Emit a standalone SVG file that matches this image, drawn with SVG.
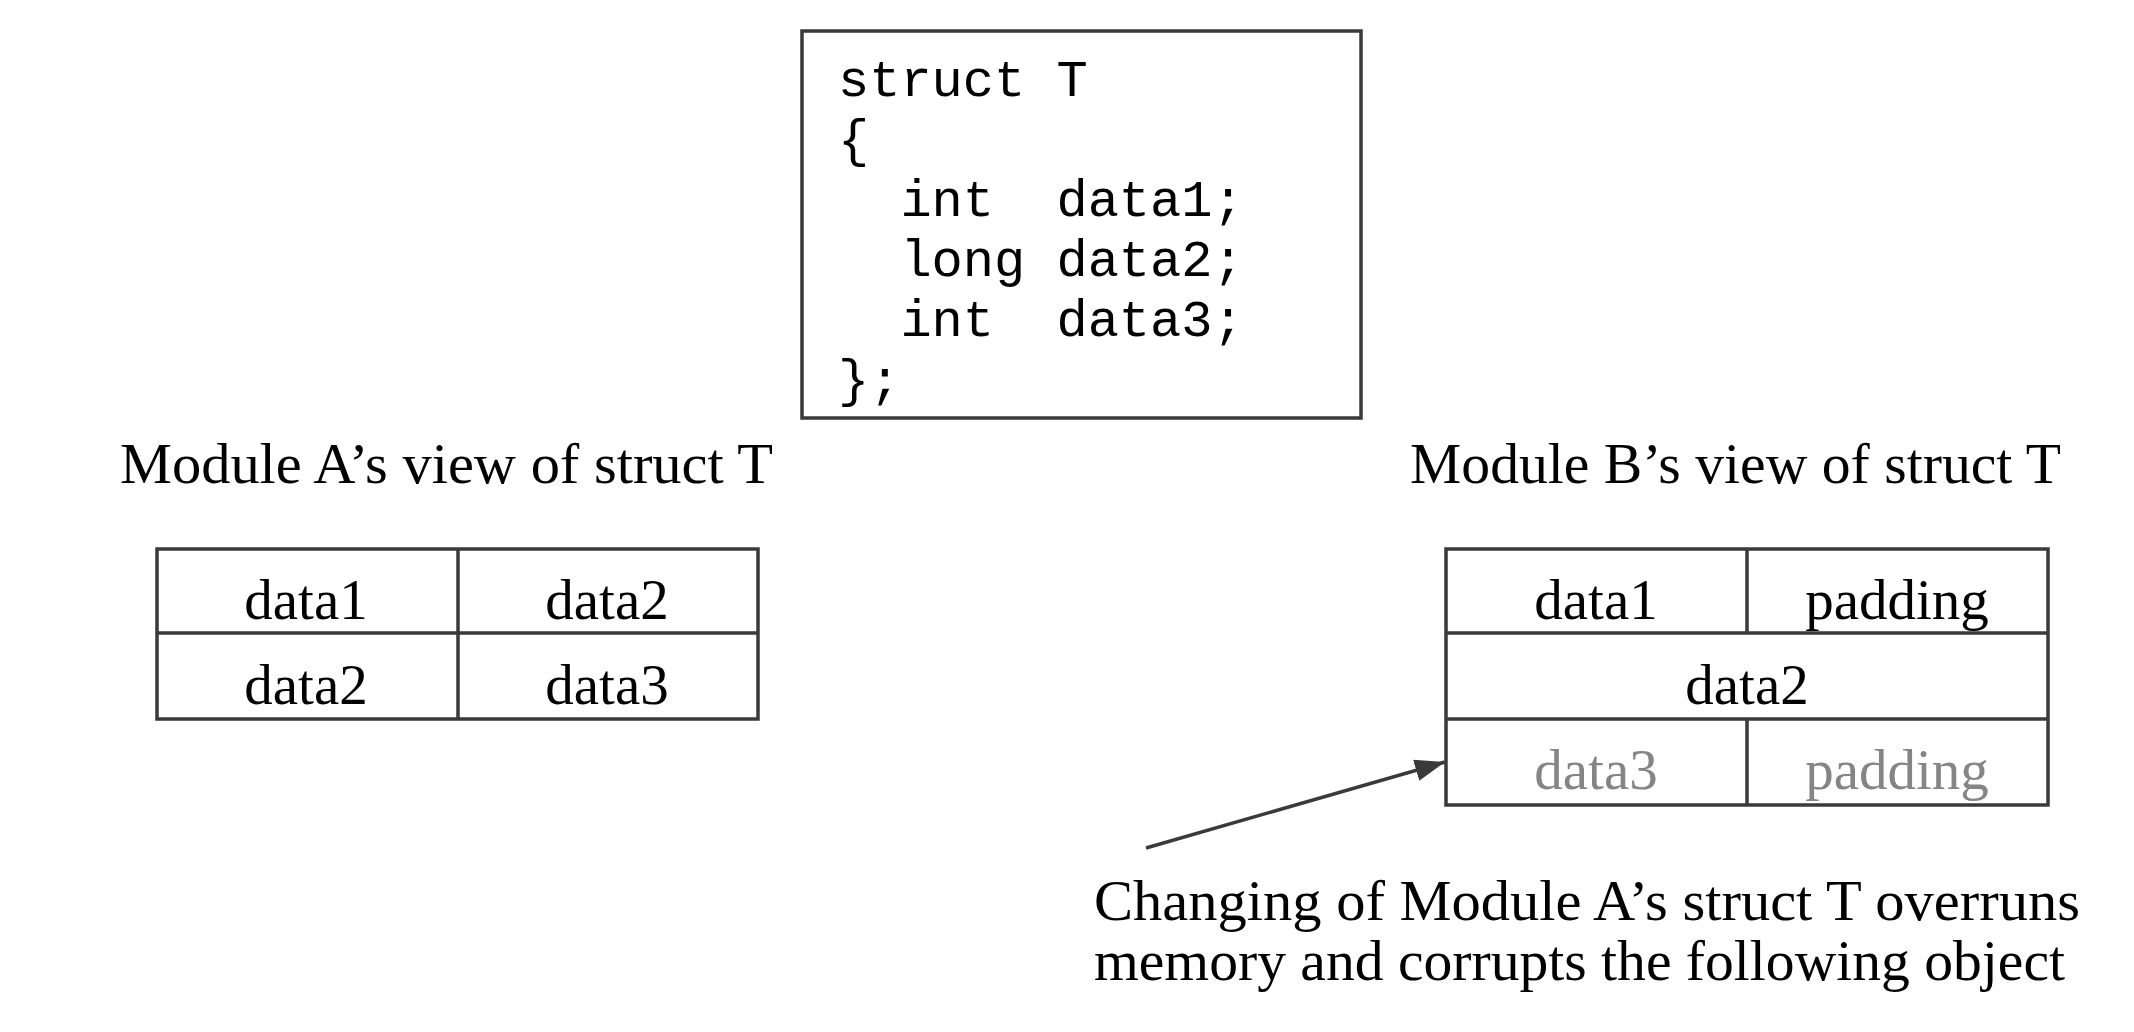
<svg xmlns="http://www.w3.org/2000/svg" width="2134" height="1032" viewBox="0 0 2134 1032">
<defs>
<style>
.box{fill:#fff;stroke:#3a3a3a;stroke-width:3.5}
.ln{stroke:#3a3a3a;stroke-width:3.5;fill:none}
.code{font-family:"Liberation Mono","Courier New",monospace;font-size:52px;fill:#000}
.lbl{font-family:"Liberation Serif","Times New Roman",serif;font-size:58px;fill:#000}
.cell{font-family:"Liberation Serif","Times New Roman",serif;font-size:57px;fill:#000;text-anchor:middle}
.grey{fill:#858585}
</style>
<marker id="ah" viewBox="0 0 10 10" refX="10" refY="5" markerWidth="30" markerHeight="22" markerUnits="userSpaceOnUse" orient="auto" preserveAspectRatio="none">
<path d="M0,0 L10,5 L0,10 z" fill="#3a3a3a"/>
</marker>
</defs>
<rect width="2134" height="1032" fill="#fff"/>
<g id="code">
<rect class="box" x="802" y="31" width="559" height="387"/>
<text class="code" xml:space="preserve"><tspan x="838" y="96">struct T</tspan><tspan x="838" y="156">{</tspan><tspan x="838" y="216">  int  data1;</tspan><tspan x="838" y="276">  long data2;</tspan><tspan x="838" y="336">  int  data3;</tspan><tspan x="838" y="396">};</tspan></text>
</g>
<g id="labelA">
<text class="lbl" x="120" y="483" textLength="653" lengthAdjust="spacingAndGlyphs">Module A’s view of struct T</text>
</g>
<g id="tableA">
<rect class="box" x="157" y="549" width="601" height="170"/>
<line class="ln" x1="157" y1="633" x2="758" y2="633"/>
<line class="ln" x1="458" y1="549" x2="458" y2="719"/>
<text class="cell" x="306" y="619">data1</text>
<text class="cell" x="607" y="619">data2</text>
<text class="cell" x="306" y="704">data2</text>
<text class="cell" x="607" y="704">data3</text>
</g>
<g id="labelB">
<text class="lbl" x="1410" y="483" textLength="651" lengthAdjust="spacingAndGlyphs">Module B’s view of struct T</text>
</g>
<g id="tableB">
<rect class="box" x="1446" y="549" width="602" height="256"/>
<line class="ln" x1="1446" y1="633" x2="2048" y2="633"/>
<line class="ln" x1="1446" y1="719" x2="2048" y2="719"/>
<line class="ln" x1="1747" y1="549" x2="1747" y2="633"/>
<line class="ln" x1="1747" y1="719" x2="1747" y2="805"/>
<text class="cell" x="1596" y="619">data1</text>
<text class="cell" x="1897" y="619">padding</text>
<text class="cell" x="1747" y="704">data2</text>
<text class="cell grey" x="1596" y="789">data3</text>
<text class="cell grey" x="1897" y="789">padding</text>
</g>
<g id="note">
<text class="lbl" x="1094" y="920" textLength="986" lengthAdjust="spacingAndGlyphs">Changing of Module A’s struct T overruns</text>
<text class="lbl" x="1094" y="980" textLength="971" lengthAdjust="spacingAndGlyphs">memory and corrupts the following object</text>
</g>
<g id="connectors">
<line class="ln" x1="1146" y1="848" x2="1445" y2="762" marker-end="url(#ah)"/>
</g>
</svg>
